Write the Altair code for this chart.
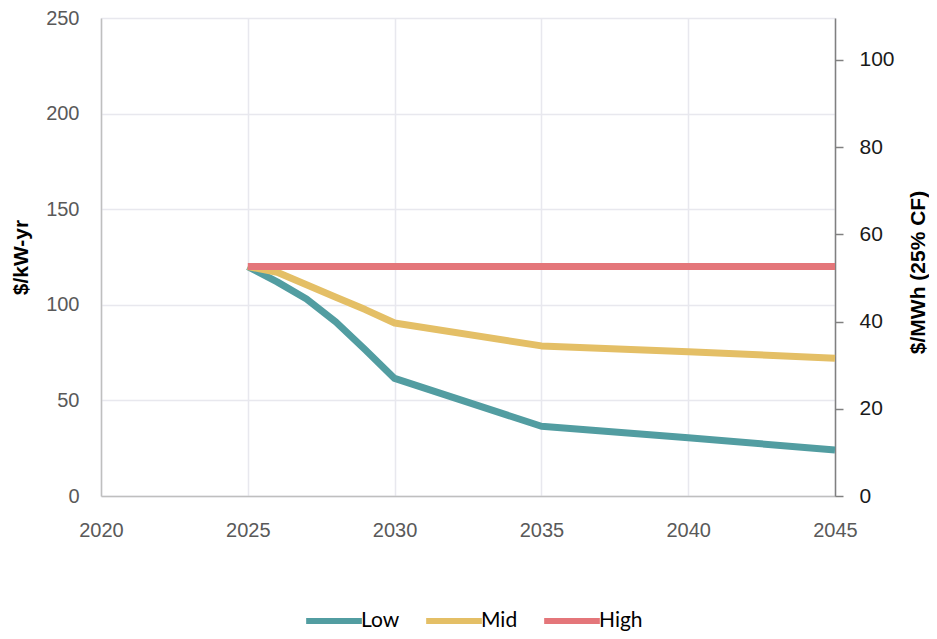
import altair as alt
import pandas as pd

years = [2025, 2026, 2027, 2028, 2029, 2030, 2035, 2040, 2045]
low = [120, 112, 103, 91, 76.5, 61.5, 36.5, 30.5, 24]
mid = [120, 117, 110.5, 104, 97.5, 90.5, 78.5, 75.5, 72]
high = [120, 120, 120, 120, 120, 120, 120, 120, 120]
series = ["Low", "Mid", "High"]
colors = ["#529DA1", "#E4BF66", "#E4767A"]

rows = []
for name, vals in zip(series, [low, mid, high]):
    for y, v in zip(years, vals):
        rows.append({"Year": y, "Value": v, "Scenario": name})
df = pd.DataFrame(rows)

right_df = pd.DataFrame({"Year": [2045], "MWh": [0]})

FONT_T = "Liberation Sans"
FONT_L = "Lato"

x_enc = alt.X("Year:Q", scale=alt.Scale(domain=[2020, 2045], nice=False, zero=False),
              axis=alt.Axis(values=[2020, 2025, 2030, 2035, 2040, 2045], format="d", title=None,
                            labelFont=FONT_T, labelFontSize=20, labelColor="#595959",
                            labelPadding=24, ticks=False, domainColor="#BFBFBF", domainWidth=1.5,
                            grid=True, gridColor="#E8E8EE", gridWidth=1.5, labelFlush=False))

lines = alt.Chart(df).mark_line(strokeWidth=7, strokeCap="butt", strokeJoin="round").encode(
    x=x_enc,
    y=alt.Y("Value:Q", scale=alt.Scale(domain=[0, 250], nice=False),
            axis=alt.Axis(values=[0, 50, 100, 150, 200, 250], title="$/kW-yr", titleFont=FONT_T,
                          titleFontSize=21, titleFontWeight="bold", titleColor="#000000",
                          titlePadding=14, labelFont=FONT_T, labelFontSize=20, labelColor="#595959",
                          labelPadding=22, ticks=False, domainColor="#BFBFBF", domainWidth=1.5,
                          grid=True, gridColor="#E8E8EE", gridWidth=1.5)),
    color=alt.Color("Scenario:N", scale=alt.Scale(domain=series, range=colors), sort=series,
                    legend=alt.Legend(title=None, orient="none", direction="horizontal",
                                      legendX=202, legendY=572, symbolType="stroke",
                                      symbolSize=3100, symbolStrokeWidth=6, labelFont=FONT_L,
                                      labelFontSize=21, labelColor="#000000", columnPadding=14,
                                      labelOffset={"expr": "-4"})),
)

right = alt.Chart(right_df).mark_point(opacity=0).encode(
    x=alt.X("Year:Q", scale=alt.Scale(domain=[2020, 2045], nice=False, zero=False)),
    y=alt.Y("MWh:Q", scale=alt.Scale(domain=[0, 109.6], nice=False),
            axis=alt.Axis(orient="right", values=[0, 20, 40, 60, 80, 100], title="$/MWh (25% CF)",
                          titleFont=FONT_T, titleFontSize=21, titleFontWeight="bold",
                          titleColor="#000000", titleAngle=270, titlePadding=34, titleY=254,
                          labelFont=FONT_T, labelFontSize=21, labelColor="#1A1A1A",
                          labelPadding=16, ticks=True, tickSize=8, tickColor="#808080",
                          tickWidth=1.5, domainColor="#808080", domainWidth=1.5, grid=False)),
)

chart = alt.layer(lines, right).resolve_scale(y="independent").properties(
    width=734, height=478, autosize=alt.AutoSizeParams(type="none"),
    padding={"left": 93, "top": 10, "right": 94, "bottom": 135},
).configure_view(stroke=None)

chart.save("out.html", embed_options={"renderer": "svg", "actions": False})
